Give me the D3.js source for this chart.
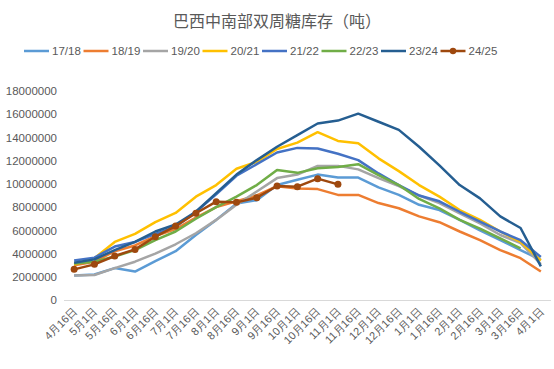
<!DOCTYPE html>
<html><head><meta charset="utf-8">
<script src="https://cdn.jsdelivr.net/npm/d3@7/dist/d3.min.js"></script>
<style>body{margin:0;background:#fff;}svg{display:block;font-family:"Liberation Sans","Noto Sans CJK SC",sans-serif;}</style>
</head><body><svg id="c" width="554" height="369"></svg>
<script>
const categories = ["4月16日","5月1日","5月16日","6月1日","6月16日","7月1日","7月16日","8月1日","8月16日","9月1日","9月16日","10月1日","10月16日","11月1日","11月16日","12月1日","12月16日","1月1日","1月16日","2月1日","2月16日","3月1日","3月16日","4月1日"];
const seriesNames = ["17/18","18/19","19/20","20/21","21/22","22/23","23/24","24/25"];
const colors = ["#5B9BD5","#ED7D31","#A5A5A5","#FFC000","#4472C4","#70AD47","#255E91","#9E480E"];
const s1718 = [2100000,2200000,2750000,2450000,3350000,4200000,5600000,6900000,8300000,8600000,9900000,10350000,10800000,10550000,10550000,9700000,9050000,8200000,7750000,6900000,6000000,5150000,4300000,3450000];
const s1819 = [3000000,3300000,4200000,4700000,5500000,6100000,7100000,8000000,8500000,9000000,9800000,9600000,9550000,9050000,9050000,8350000,7900000,7200000,6700000,5900000,5150000,4300000,3600000,2450000];
const s1920 = [2100000,2150000,2750000,3300000,4000000,4800000,5750000,6900000,8200000,9350000,10500000,10800000,11550000,11550000,11250000,10500000,9800000,9000000,8350000,7450000,6600000,5600000,4900000,3100000];
const s2021 = [3050000,3600000,5000000,5700000,6700000,7500000,8900000,9900000,11300000,11900000,13000000,13550000,14450000,13700000,13500000,12200000,11100000,9900000,8900000,7750000,6900000,5900000,5000000,3400000];
const s2122 = [3400000,3650000,4600000,5000000,5700000,6300000,7600000,9100000,10700000,11700000,12700000,13100000,13050000,12600000,12050000,10900000,9900000,9000000,8500000,7600000,6750000,5900000,5150000,3700000];
const s2223 = [3150000,3300000,3750000,4300000,5150000,5900000,7000000,8000000,8900000,9900000,11200000,10950000,11350000,11450000,11700000,10750000,9900000,8700000,7900000,6900000,6150000,5300000,4450000];
const s2324 = [3200000,3500000,4300000,5000000,5900000,6500000,7600000,9200000,10800000,12050000,13200000,14200000,15200000,15450000,16050000,15350000,14650000,13200000,11600000,9900000,8750000,7200000,6200000,2900000];
const s2425 = [2640000,3070000,3790000,4360000,5450000,6370000,7470000,8470000,8410000,8810000,9820000,9760000,10450000,9960000];
const seriesData = [s1718,s1819,s1920,s2021,s2122,s2223,s2324,s2425];
const yTicks = [0,2000000,4000000,6000000,8000000,10000000,12000000,14000000,16000000,18000000];
const title = "巴西中南部双周糖库存（吨）";

const svg = d3.select("#c");
const x = d3.scalePoint().domain(categories).range([64,551]).padding(0.5);
const y = d3.scaleLinear().domain([0,18000000]).range([300,91]);
const txt = "#595959";

svg.append("text").attr("x",277).attr("y",27).attr("text-anchor","middle")
  .attr("font-size",16).attr("fill",txt).text(title);

// legend
const lg = svg.append("g");
seriesNames.forEach((n,i)=>{
  const gx = 24 + i*59.5, gy = 51;
  const g = lg.append("g").attr("transform",`translate(${gx},${gy})`);
  g.append("line").attr("x1",0).attr("x2",25).attr("y1",0).attr("y2",0)
    .attr("stroke",colors[i]).attr("stroke-width",2.5);
  if(i===7) g.append("circle").attr("cx",12.5).attr("cy",0).attr("r",3.2).attr("fill",colors[i]);
  g.append("text").attr("x",28).attr("y",4).attr("font-size",11.5).attr("fill",txt).text(n);
});

// y axis
const ya = svg.append("g").attr("transform","translate(64,0)")
  .call(d3.axisLeft(y).tickValues(yTicks).tickSize(0).tickPadding(7).tickFormat(d3.format("d")));
ya.select(".domain").remove();
ya.selectAll("text").attr("font-size",11.5).attr("fill",txt).attr("font-family","Liberation Sans");

// x axis
const xa = svg.append("g").attr("transform","translate(0,300)")
  .call(d3.axisBottom(x).tickSize(0).tickPadding(0));
xa.select(".domain").attr("stroke","#d9d9d9").attr("d","M64,0.5H551");
xa.selectAll("text").attr("font-size",11).attr("fill",txt)
  .attr("text-anchor","end").attr("dy",0)
  .attr("transform","translate(3,12) rotate(-45)");

// lines
const line = d3.line().x((d,i)=>x(categories[i])).y(d=>y(d));
seriesData.forEach((data,k)=>{
  svg.append("path").datum(data).attr("d",line).attr("fill","none")
    .attr("stroke",colors[k]).attr("stroke-width",2.5).attr("stroke-linejoin","round");
});
svg.append("g").selectAll("circle").data(s2425).join("circle")
  .attr("cx",(d,i)=>x(categories[i])).attr("cy",d=>y(d)).attr("r",3.5).attr("fill",colors[7]);
</script></body></html>
